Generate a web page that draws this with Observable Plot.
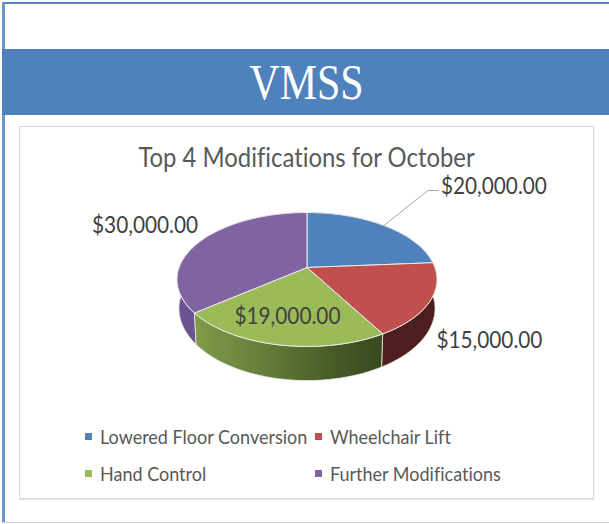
<!DOCTYPE html>
<html>
<head>
<meta charset="utf-8">
<script src="https://cdn.jsdelivr.net/npm/d3@7"></script>
<script src="https://cdn.jsdelivr.net/npm/@observablehq/plot@0.6"></script>
<style>
html,body{margin:0;padding:0;background:#fff;overflow:hidden}
#page{position:relative;width:609px;height:524px;font-family:Lato,sans-serif;color:#595959;overflow:hidden;font-variant-ligatures:none}
.abs{position:absolute;white-space:nowrap}
#frameTop{left:2px;top:2px;width:607px;height:2px;background:#4f81bd}
#frameLeft{left:2px;top:2px;width:3px;height:520px;background:#6f97c9}
#frameBottom{left:2px;top:522px;width:607px;height:1px;background:#c5d3e8}
#band{left:2px;top:49px;width:607px;height:66px;background:#4f81bd}
#banner{left:3px;width:607px;top:49px;height:66px;line-height:66px;text-align:center;color:#fff;font-family:"Liberation Serif",serif;font-size:50px;transform:scaleX(.84)}
#card{left:19px;top:126px;width:573px;height:371px;border:1px solid #d9d9d9;box-shadow:0 1px 1px #e4e4e4;background:#fff}
#title{left:19px;width:575px;top:141px;text-align:center;font-size:26px;line-height:32px;transform:scaleX(.918)}
.swatch{width:7px;height:7px}
.legtext{font-size:20px;line-height:24px;transform:scaleX(.9);transform-origin:left center}
#chart{left:19px;top:170px}
</style>
</head>
<body>
<div id="page">
  <div class="abs" id="frameTop"></div>
  <div class="abs" id="frameLeft"></div>
  <div class="abs" id="frameBottom"></div>
  <div class="abs" id="band"></div>
  <div class="abs" id="banner"></div>
  <div class="abs" id="card"></div>
  <div class="abs" id="title"></div>
  <div class="abs" id="chart"></div>
  <div id="legend"></div>
</div>
<script>
// ---- data ----
const bannerText = "VMSS";
const chartTitle = "Top 4 Modifications for October";
const categories = ["Lowered Floor Conversion", "Wheelchair Lift", "Hand Control", "Further Modifications"];
const values = [20000, 15000, 19000, 30000];
// ---- styles ----
const topColors = ["#4f81bd", "#c0504d", "#9bbb59", "#8064a2"];
const sideFills = ["#2f4d71", "#4c1f1e", "url(#greenSide)", "#6a5390"];
const labelDx = [110, 59, -3, -55];
const labelDy = [-39, 40, 5, -16];

document.getElementById("banner").textContent = bannerText;
document.getElementById("title").textContent = chartTitle;

// ---- 3-D pie geometry (perspective view of a unit disc) ----
const W = 574, H = 250, LEFT = 19, TOP = 170;
const unitX = 127.9, unitY = 64.8, cx = 306.5, cy = 267;
const persp = 0.179, depth = 28, shrink = 0.985;
const project = (theta, r = 1, drop = 0) => {
  const c = Math.sin(theta) * r, s = Math.cos(theta) * r, w = 1 + persp * s;
  return {
    x: (c / w) * (drop ? shrink : 1),
    y: s / w - (drop ? depth / w / unitY : 0)
  };
};
const arcs = d3.pie().sort(null)(values);
const arcAngles = a => d3.range(0, 1 + 1e-9, 1 / Math.ceil((a.endAngle - a.startAngle) / 0.03))
  .map(t => a.startAngle + t * (a.endAngle - a.startAngle));

const topFaces = arcs.flatMap((a, i) => {
  const pts = [project(0, 0), ...arcAngles(a).map(t => project(t)), project(0, 0)];
  return pts.map(p => ({...p, name: categories[i]}));
});
const sideFace = a => {
  const ts = arcAngles(a);
  const pts = [...ts.map(t => project(t)), ...ts.slice().reverse().map(t => project(t, 1, true))];
  return [...pts, pts[0]];
};
const mid = a => (a.startAngle + a.endAngle) / 2;

const gradient = () => {
  const defs = d3.create("svg:defs");
  const g = defs.append("linearGradient").attr("id", "greenSide");
  [[0, "#7f9c4a"], [0.35, "#64803a"], [0.75, "#465a27"], [1, "#39491e"]]
    .forEach(([o, c]) => g.append("stop").attr("offset", o).attr("stop-color", c));
  return defs.node();
};

const order = [3, 0, 1, 2];
const labelAnchor = i => i === 2 ? project(mid(arcs[i]), 0.62) : project(mid(arcs[i]));
const leadStart = project(mid(arcs[0]));
const leader = [
  leadStart,
  {x: leadStart.x + 44 / unitX, y: leadStart.y + 35 / unitY},
  {x: leadStart.x + 54 / unitX, y: leadStart.y + 35 / unitY}
];
const money = d3.format("$,.2f");

const plot = Plot.plot({
  width: W, height: H, margin: 0,
  style: {background: "transparent", overflow: "visible"},
  x: {domain: [(LEFT - cx) / unitX, (LEFT + W - cx) / unitX], range: [0, W], axis: null},
  y: {domain: [(cy - (TOP + H)) / unitY, (cy - TOP) / unitY], range: [H, 0], axis: null},
  color: {domain: categories, range: topColors},
  marks: [
    gradient,
    ...order.map(i => Plot.line(sideFace(arcs[i]), {x: "x", y: "y", fill: sideFills[i], stroke: "#e9e9e9", strokeWidth: 0.8})),
    Plot.line(topFaces, {x: "x", y: "y", z: "name", fill: "name", stroke: "#ececec", strokeWidth: 1}),
    Plot.line(leader, {x: "x", y: "y", stroke: "#a6a6a6", strokeWidth: 1}),
    ...values.map((v, i) => Plot.text([v], {
      x: () => labelAnchor(i).x,
      y: () => labelAnchor(i).y,
      text: d => money(d),
      dx: labelDx[i], dy: labelDy[i],
      fontSize: 24, fontFamily: "Lato, sans-serif", fill: "#404040",
      render(index, scales, values, dimensions, context, next) {
        const g = next(index, scales, values, dimensions, context);
        g.querySelectorAll("text").forEach(t => {
          t.setAttribute("textLength", 106);
          t.setAttribute("lengthAdjust", "spacingAndGlyphs");
        });
        return g;
      }
    }))
  ]
});
document.getElementById("chart").appendChild(plot);

// ---- legend ----
const legend = document.getElementById("legend");
categories.forEach((name, i) => {
  const col = i % 2, row = i >> 1;
  const sw = document.createElement("div");
  sw.className = "abs swatch";
  sw.style.cssText = `left:${85 + col * 230}px;top:${433 + row * 37}px;background:${topColors[i]}`;
  const t = document.createElement("div");
  t.className = "abs legtext";
  t.textContent = name;
  t.style.cssText = `left:${100 + col * 230}px;top:${424 + row * 37}px`;
  legend.append(sw, t);
});
</script>
</body>
</html>
